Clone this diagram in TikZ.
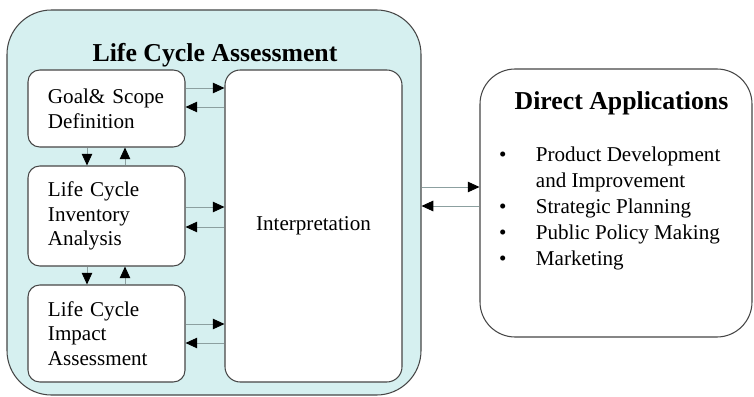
\documentclass[tikz,border=0pt]{standalone}
\usepackage{fontspec}
\setmainfont{Liberation Serif}
\usetikzlibrary{positioning,arrows.meta,calc}
\definecolor{lcacyan}{RGB}{214,240,240}
\definecolor{boxline}{RGB}{70,70,70}
\definecolor{shaft}{RGB}{140,160,160}

\begin{document}
\begin{tikzpicture}[x=0.03cm,y=-0.03cm,
  box/.style={draw=boxline,line width=0.9pt,fill=white,rounded corners=10pt},
  stage/.style={box,text width=3.51cm,inner xsep=0.6cm,align=left,font=\fontsize{18}{21}\selectfont},
  head/.style={anchor=base,font=\bfseries\fontsize{22}{26}\selectfont},
  link/.style={draw=shaft,line width=0.7pt,-{Triangle[length=10pt,width=9pt,color=black]}}]
\useasboundingbox (0,0) rectangle (754,397);

% the assessment frame
\node[box,fill=lcacyan,rounded corners=38pt,minimum width=12.42cm,minimum height=11.55cm] (lca) at (214,202.5) {};
\node[head] (lcatitle) at (215,62) {Life Cycle Assessment};

\node[stage,minimum height=2.31cm] (goal) at (106.5,108.5) {Goal\& Scope\\Definition};
\node[stage,minimum height=3.0cm] (lci) at (106.5,216) {Life Cycle\\Inventory\\Analysis};
\node[stage,minimum height=2.91cm] (lcia) at (106.5,333.5) {Life Cycle\\Impact\\Assessment};
\node[box,rounded corners=13pt,minimum width=5.31cm,minimum height=9.36cm,font=\fontsize{18}{21}\selectfont] (interp) at (313.5,226) {Interpretation};

% stages <-> interpretation
\draw[link] (goal.east |- 0,88) -- (interp.west |- 0,88);
\draw[link] (interp.west |- 0,107) -- (goal.east |- 0,107);
\draw[link] (lci.east |- 0,207) -- (interp.west |- 0,207);
\draw[link] (interp.west |- 0,227) -- (lci.east |- 0,227);
\draw[link] (lcia.east |- 0,324) -- (interp.west |- 0,324);
\draw[link] (interp.west |- 0,343) -- (lcia.east |- 0,343);

% between the stages
\draw[link] (goal.south -| 87,0) -- (lci.north -| 87,0);
\draw[link] (lci.north -| 125,0) -- (goal.south -| 125,0);
\draw[link] (lci.south -| 87,0) -- (lcia.north -| 87,0);
\draw[link] (lcia.north -| 125,0) -- (lci.south -| 125,0);

% applications
\node[box,rounded corners=30pt,minimum width=8.16cm,minimum height=8.04cm] (direct) at (616,203) {};
\node[head] (datitle) at (621.5,110) {Direct Applications};
\node[anchor=base west,inner sep=0pt,font=\fontsize{18}{22}\selectfont] (dalist) at (499,162) {%
  \begin{tabular}[t]{@{}l@{\hspace{25pt}}l@{}}
  \textbullet & Product Development\\
              & and Improvement\\
  \textbullet & Strategic Planning\\
  \textbullet & Public Policy Making\\
  \textbullet & Marketing
  \end{tabular}};

\draw[link] (lca.east |- 0,187) -- (direct.west |- 0,187);
\draw[link] (direct.west |- 0,206) -- (lca.east |- 0,206);
\end{tikzpicture}
\end{document}
